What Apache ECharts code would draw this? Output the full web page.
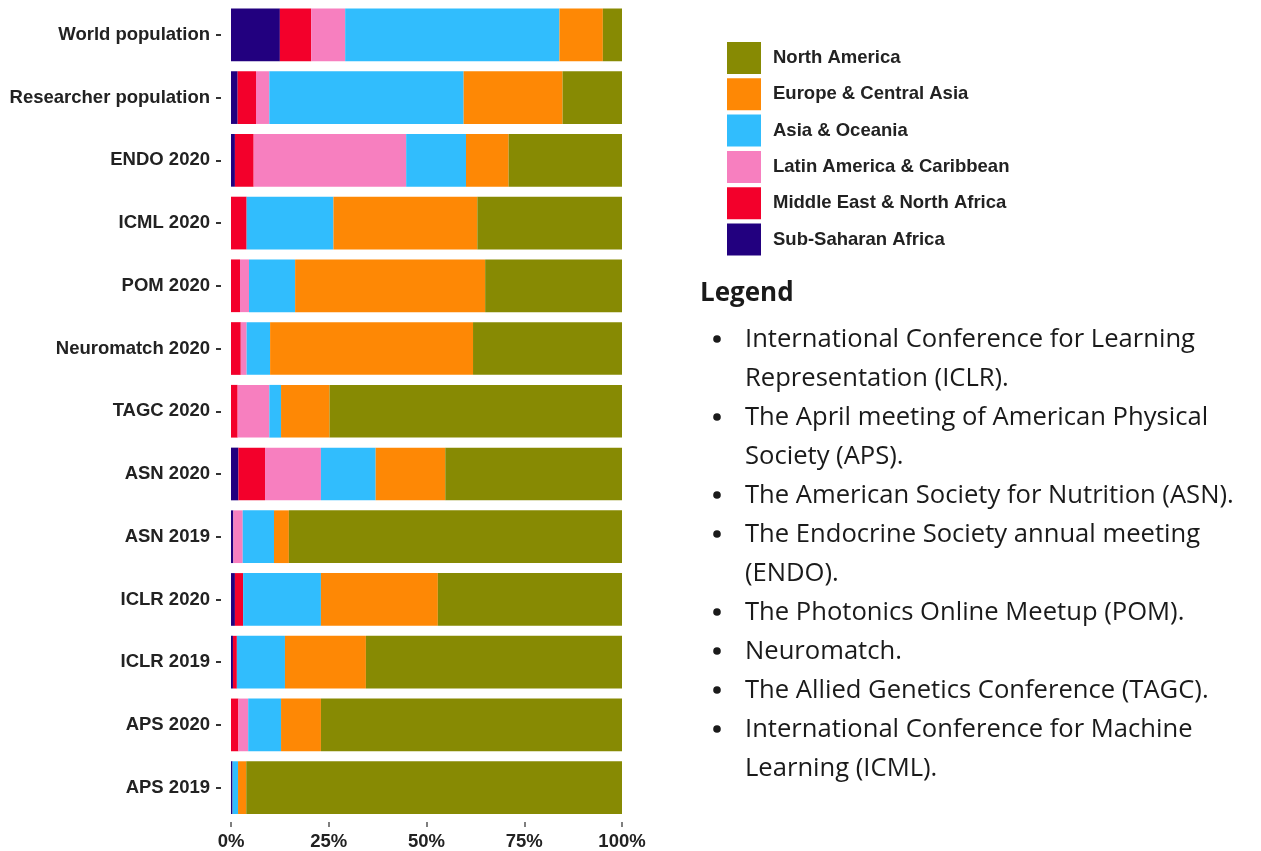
<!DOCTYPE html>
<html>
<head>
<meta charset="utf-8">
<script src="https://cdn.jsdelivr.net/npm/echarts@6/dist/echarts.min.js"></script>
<style>
  html, body { margin: 0; padding: 0; background: #fff; }
  #chart { width: 1261px; height: 851px; }
</style>
</head>
<body>
<div id="chart"></div>
<script>
// categories, top to bottom
var categories = ['World population', 'Researcher population', 'ENDO 2020', 'ICML 2020', 'POM 2020',
  'Neuromatch 2020', 'TAGC 2020', 'ASN 2020', 'ASN 2019', 'ICLR 2020', 'ICLR 2019', 'APS 2020', 'APS 2019']

// share of participants (%) by region
var subSaharan = [12.5, 1.7, 1.0, 0, 0, 0, 0, 1.9, 0.6, 1.0, 0.5, 0, 0.4]
var middleEast = [8.0, 4.7, 4.8, 4.0, 2.3, 2.5, 1.7, 6.8, 0, 2.1, 1.0, 1.9, 0]
var latinAmerica = [8.7, 3.4, 39.0, 0, 2.3, 1.5, 8.1, 14.3, 2.4, 0, 0, 2.5, 0]
var asiaOceania = [54.8, 49.7, 15.3, 22.2, 11.8, 6.0, 3.0, 14.0, 8.0, 19.9, 12.3, 8.4, 1.4]
var europe = [11.1, 25.3, 10.9, 36.8, 48.6, 51.9, 12.4, 17.8, 3.8, 29.9, 20.7, 10.2, 2.1]
var northAmerica = [4.9, 15.2, 29.0, 37.0, 35.0, 38.1, 74.8, 45.2, 85.2, 47.1, 65.5, 77.0, 96.1]

var xTicks = [0, 25, 50, 75, 100]

var regionNames = ['Sub-Saharan Africa', 'Middle East & North Africa', 'Latin America & Caribbean',
  'Asia & Oceania', 'Europe & Central Asia', 'North America']
var regionValues = [subSaharan, middleEast, latinAmerica, asiaOceania, europe, northAmerica]
var regionColors = ['#22007f', '#f3002b', '#f77fbf', '#31bdfd', '#fe8805', '#878a03']

// text of the note on the right
var noteItems = [
  'International Conference for Learning\nRepresentation (ICLR).',
  'The April meeting of American Physical\nSociety (APS).',
  'The American Society for Nutrition (ASN).',
  'The Endocrine Society annual meeting\n(ENDO).',
  'The Photonics Online Meetup (POM).',
  'Neuromatch.',
  'The Allied Genetics Conference (TAGC).',
  'International Conference for Machine\nLearning (ICML).'
]

var chart = echarts.init(document.getElementById('chart'))

var series = regionNames.map(function (name, i) {
  return {
    name: name,
    type: 'bar',
    stack: 'total',
    barCategoryGap: '16%',
    data: regionValues[i],
    itemStyle: { color: regionColors[i] }
  }
})

// bullets + text of the note
var lineH = 39
var graphics = [{
  type: 'text',
  left: 700,
  top: 281,
  style: { text: 'Legend', font: 'bold 26px "Open Sans"', fill: '#1a1a1a' }
}]
var y = 339
noteItems.forEach(function (txt) {
  graphics.push({
    type: 'circle',
    shape: { cx: 717, cy: y, r: 3.8 },
    style: { fill: '#1a1a1a' }
  })
  graphics.push({
    type: 'text',
    x: 745,
    y: y - lineH / 2 + 1,
    style: {
      text: txt,
      font: '25.6px "Open Sans"',
      fill: '#1a1a1a',
      lineHeight: lineH,
      verticalAlign: 'top'
    }
  })
  y += lineH * txt.split('\n').length
})

var option = {
  animation: false,
  backgroundColor: '#fff',
  grid: {
    left: 231,
    right: 639,
    top: 3.5,
    bottom: 28.5,
    containLabel: false
  },
  legend: {
    orient: 'vertical',
    left: 727,
    top: 42,
    padding: 0,
    itemWidth: 34,
    itemHeight: 32,
    itemGap: 4.3,
    icon: 'rect',
    selectedMode: false,
    data: regionNames.slice().reverse(),
    textStyle: {
      fontFamily: 'Liberation Sans',
      fontWeight: 'bold',
      fontSize: 18.5,
      color: '#222',
      padding: [0, 0, 0, 7]
    }
  },
  xAxis: {
    type: 'value',
    min: xTicks[0],
    max: xTicks[xTicks.length - 1],
    interval: 25,
    offset: 3,
    axisLine: { show: false },
    axisTick: { show: true, length: 5, lineStyle: { color: '#555', width: 1.5 } },
    splitLine: { show: false },
    axisLabel: {
      margin: 10,
      formatter: '{value}%',
      fontFamily: 'Liberation Sans',
      fontWeight: 'bold',
      fontSize: 18.5,
      color: '#222'
    }
  },
  yAxis: {
    type: 'category',
    inverse: true,
    data: categories,
    axisLine: { show: false },
    // tick drawn 10px away from the panel edge, 5px long
    axisTick: {
      show: true,
      alignWithLabel: true,
      length: 15,
      lineStyle: { color: '#333', width: 2, type: [0, 10, 5, 40], cap: 'butt' }
    },
    axisLabel: {
      margin: 21,
      fontFamily: 'Liberation Sans',
      fontWeight: 'bold',
      fontSize: 18.5,
      color: '#222'
    }
  },
  series: series,
  graphic: graphics
}

chart.setOption(option)
window.addEventListener('resize', function () {
  chart.resize()
})
</script>
</body>
</html>
